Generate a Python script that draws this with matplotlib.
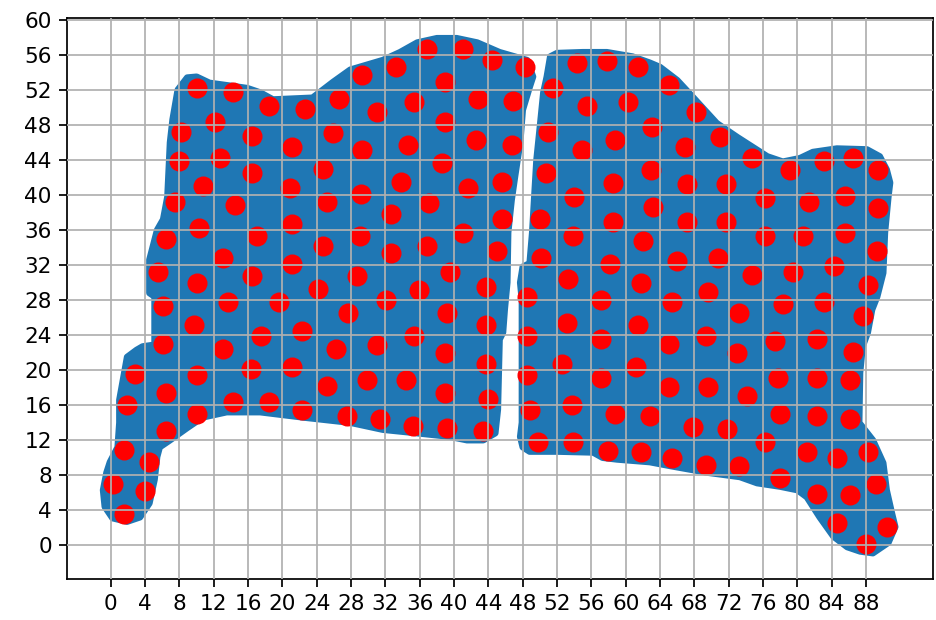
import numpy as np
import matplotlib
matplotlib.use("Agg")
from matplotlib import pyplot as plt

# outline of the blue area, left part
left_edge_x = [-0.9, -0.7, 0.2, 1.9, 3.4, 4.5, 5.1, 5.4, 5.7, 6.9, 8.9, 10.7, 13.5, 17.4, 22.4,
               27.9, 31.7, 35.7, 39.5, 41.5, 43.4, 44.8, 45.1, 45.3, 45.7, 45.9, 46.2, 46.3, 46.7,
               47.1, 47.7, 48.0, 48.8, 49.2, 48.5, 45.3, 42.7, 40.3, 38.0, 35.7, 33.7, 31.7, 27.9,
               25.9, 23.5, 18.9, 17.4, 15.9, 11.5, 10.0, 8.9, 7.8, 7.2, 6.9, 6.6, 6.1, 5.4, 4.5,
               4.5, 5.1, 5.1, 3.7, 3.0, 1.9, 1.0, 1.0, 0.8, -0.1, -0.5]
left_edge_y = [6.3, 4.4, 3.1, 2.7, 3.2, 4.8, 7.5, 10.1, 11.2, 12.0, 13.4, 14.6, 15.2, 15.2, 14.6,
               14.0, 13.2, 12.8, 12.4, 12.0, 12.0, 12.8, 15.5, 23.5, 24.3, 26.9, 30.0, 35.7, 39.4,
               42.1, 46.0, 49.7, 52.3, 53.5, 55.4, 56.3, 57.4, 57.9, 57.9, 57.4, 56.3, 55.4, 54.3,
               52.9, 51.1, 50.9, 51.7, 52.2, 52.8, 53.5, 53.4, 52.0, 48.6, 46.0, 39.8, 37.2, 36.0,
               32.6, 28.8, 28.4, 22.9, 22.7, 22.3, 21.5, 16.6, 14.0, 11.2, 9.5, 8.3]

# outline of the blue area, right part
right_edge_x = [51.2, 52.0, 55.0, 57.8, 60.8, 62.8, 64.0, 66.0, 67.8, 70.6, 73.0, 76.5, 78.3, 80.3,
                81.8, 84.6, 88.1, 89.6, 90.4, 90.8, 90.6, 90.2, 90.0, 89.3, 88.7, 88.2, 87.6, 87.3,
                87.2, 88.8, 90.0, 90.4, 91.0, 91.4, 90.6, 88.8, 87.3, 85.8, 84.2, 82.6, 81.1, 80.0,
                78.0, 75.3, 73.3, 69.5, 65.5, 62.8, 59.0, 57.3, 56.2, 52.0, 48.8, 48.0, 47.7, 47.9,
                47.9, 47.7, 48.0, 48.8, 49.1, 49.6, 50.0, 50.4, 50.8]
right_edge_y = [55.8, 56.2, 56.3, 56.3, 55.8, 55.1, 54.6, 53.1, 51.2, 48.2, 46.6, 44.4, 43.8, 44.2,
                44.9, 45.3, 45.2, 44.4, 42.9, 41.4, 39.8, 35.7, 31.1, 28.4, 26.9, 24.3, 22.7, 19.7,
                14.0, 12.0, 9.4, 6.3, 3.7, 2.1, 0.3, -0.9, -0.7, -0.2, 1.0, 3.2, 5.5, 6.3,
                6.7, 7.1, 7.8, 8.3, 9.0, 9.5, 9.8, 10.0, 10.6, 10.7, 10.7, 11.2, 12.4, 14.0,
                28.0, 30.0, 31.8, 32.2, 35.7, 44.0, 47.8, 51.7, 53.5]

# red points
dots_x = [10.0, 14.2, 18.4, 22.6, 26.6, 29.3, 12.1, 8.2, 16.5, 21.1, 25.9, 29.3, 7.9, 12.7, 16.5,
          24.7, 10.8, 20.9, 7.5, 14.5, 25.2, 29.1, 33.2, 36.8, 41.0, 44.4, 48.3, 38.9, 35.3, 31.0,
          42.8, 46.9, 38.9, 34.6, 42.5, 46.7, 38.6, 33.8, 41.6, 45.6, 37.1, 32.6, 10.3, 21.1, 17.0,
          6.4, 24.7, 29.0, 13.1, 21.1, 5.5, 16.5, 10.0, 24.1, 28.7, 6.1, 13.6, 19.6, 27.6, 9.7,
          17.5, 22.3, 6.1, 13.1, 26.2, 2.8, 10.0, 16.3, 21.1, 25.2, 6.4, 1.9, 14.2, 18.4, 45.6,
          41.0, 36.8, 32.6, 45.0, 39.5, 35.9, 43.7, 32.1, 39.2, 43.7, 35.3, 31.0, 38.9, 43.7, 29.8,
          34.4, 38.9, 43.9, 10.0, 22.3, 27.5, 6.4, 1.5, 4.5, 0.2, 4.0, 1.5, 31.4, 35.2, 39.2, 43.4,
          51.5, 54.3, 57.8, 61.4, 55.5, 60.3, 50.9, 54.9, 58.7, 63.1, 50.7, 54.0, 58.5, 62.9, 65.0,
          68.2, 71.0, 66.9, 74.7, 79.1, 83.1, 86.5, 89.4, 67.1, 71.7, 76.2, 81.4, 85.5, 89.4, 63.2,
          50.0, 58.5, 53.8, 62.0, 50.1, 58.2, 53.3, 61.8, 48.5, 57.1, 53.1, 61.4, 48.5, 57.1, 52.6,
          61.2, 48.5, 57.1, 53.7, 67.1, 71.7, 76.2, 80.7, 85.5, 89.3, 66.0, 70.7, 74.7, 79.5, 84.3,
          69.6, 65.4, 73.2, 78.3, 83.1, 88.2, 87.6, 69.3, 65.0, 73.0, 77.4, 82.3, 86.5, 65.0, 69.6,
          74.1, 77.7, 82.3, 86.1, 48.8, 58.7, 49.8, 53.8, 57.9, 61.8, 62.8, 67.8, 71.8, 76.2, 78.0,
          82.3, 86.1, 65.4, 69.3, 73.2, 78.0, 81.1, 84.6, 88.2, 89.2, 82.3, 86.1, 84.6, 90.4, 88.0]
dots_y = [52.2, 51.7, 50.1, 49.8, 51.0, 53.7, 48.3, 47.2, 46.7, 45.5, 47.1, 45.1, 43.9, 44.2, 42.5,
          43.0, 41.0, 40.8, 39.2, 38.9, 39.2, 40.1, 54.6, 56.7, 56.7, 55.4, 54.6, 52.9, 50.6, 49.5,
          51.0, 50.7, 48.3, 45.7, 46.3, 45.7, 43.7, 41.5, 40.8, 41.5, 39.1, 37.8, 36.2, 36.7, 35.3,
          35.0, 34.2, 35.3, 32.8, 32.1, 31.2, 30.7, 29.9, 29.3, 30.7, 27.3, 27.8, 27.8, 26.5, 25.1,
          23.9, 24.5, 23.0, 22.4, 22.4, 19.6, 19.5, 20.1, 20.4, 18.2, 17.4, 16.0, 16.4, 16.4, 37.2,
          35.7, 34.2, 33.4, 33.6, 31.2, 29.2, 29.5, 28.0, 26.5, 25.1, 23.9, 22.9, 21.9, 20.7, 18.9,
          18.9, 17.4, 16.7, 15.0, 15.4, 14.8, 13.0, 10.9, 9.5, 7.0, 6.2, 3.6, 14.4, 13.6, 13.4, 13.0,
          52.2, 55.1, 55.3, 54.6, 50.1, 50.6, 47.2, 45.1, 46.3, 47.8, 42.5, 39.8, 41.4, 42.9, 52.5,
          49.5, 46.6, 45.5, 44.2, 42.8, 43.9, 44.2, 42.8, 41.3, 41.3, 39.6, 39.2, 39.9, 38.5, 38.6,
          37.2, 36.9, 35.3, 34.8, 32.8, 32.1, 30.4, 29.9, 28.4, 28.0, 25.4, 25.1, 23.9, 23.6, 20.7,
          20.4, 19.5, 19.1, 16.0, 36.9, 36.9, 35.3, 35.3, 35.7, 33.6, 32.5, 32.8, 30.9, 31.2, 31.9,
          28.9, 27.8, 26.5, 27.5, 27.8, 29.7, 26.2, 23.9, 23.0, 21.9, 23.3, 23.6, 22.1, 18.1, 18.1,
          17.0, 19.1, 19.1, 18.9, 15.4, 15.0, 11.8, 11.8, 10.8, 10.7, 14.8, 13.5, 13.3, 11.8, 15.0,
          14.8, 14.4, 10.0, 9.2, 9.0, 7.7, 10.6, 10.0, 10.7, 7.0, 5.9, 5.7, 2.6, 2.1, 0.1]

fig = plt.figure(figsize=(6.0, 620 / 156), dpi=156)
ax = fig.add_axes([0.0716, 0.0661, 0.9252, 0.9041])

blue = '#1f77b4'
ax.fill(left_edge_x, left_edge_y, color=blue, lw=3, joinstyle='round')
ax.fill(right_edge_x, right_edge_y, color=blue, lw=3, joinstyle='round')
ax.scatter(dots_x, dots_y, s=68, color='red', zorder=2)

ax.set_xlim(-5.1, 95.8)
ax.set_ylim(-3.85, 60.15)
ax.set_xticks(np.arange(0, 92, 4))
ax.set_yticks(np.arange(0, 61, 4))
ax.set_axisbelow(False)
ax.grid(True)

fig.savefig('out.png', dpi=156)
